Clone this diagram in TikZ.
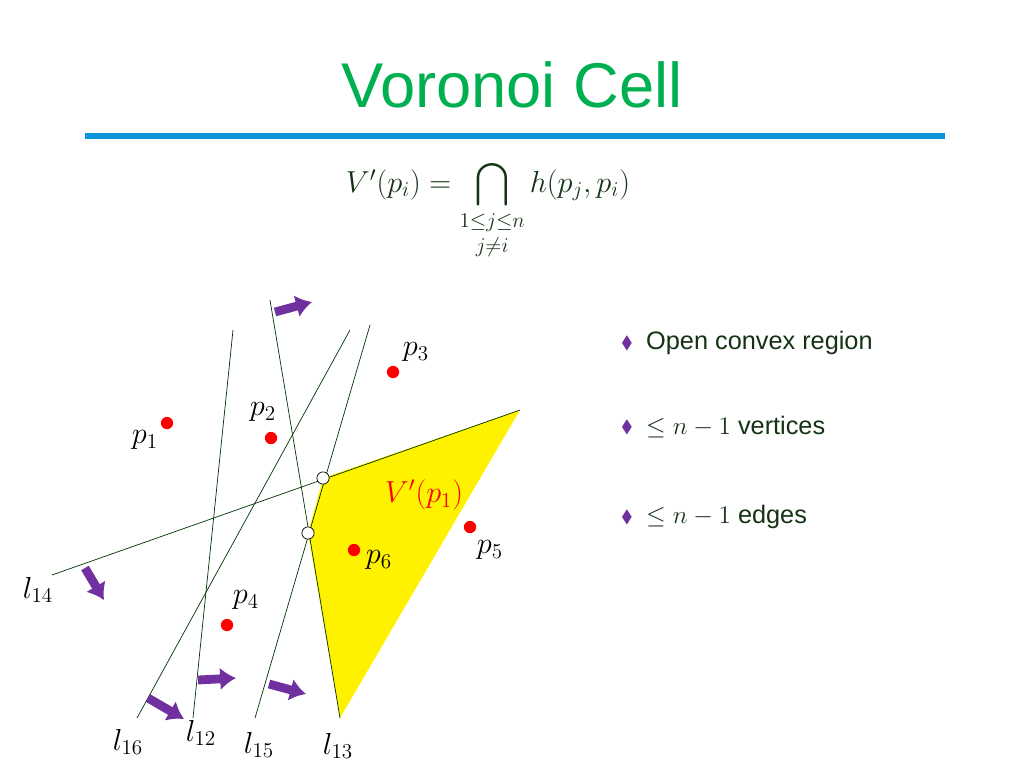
\documentclass[tikz,border=0pt]{standalone}
\usepackage{amsmath,amssymb}
\usepackage{fontspec}
\setmainfont{Liberation Sans}
\usetikzlibrary{arrows.meta}
\definecolor{ttlgreen}{RGB}{0,176,80}
\definecolor{darktxt}{RGB}{20,50,20}
\definecolor{pushviolet}{RGB}{112,48,160}
\begin{document}
\begin{tikzpicture}[x=0.02cm,y=-0.02cm]
            \tikzstyle{site}=[circle,fill=red,inner sep=0pt,minimum size=7pt]
            \tikzstyle{vert}=[circle,draw,fill=white,inner sep=0pt,minimum size=7pt]
            \tikzset{bis/.style = {draw=black!80!green,thin}}
            \tikzset{push/.style = {-{Latex[length=9pt,width=13pt]},line width=5pt,draw=pushviolet}}
            \tikzset{lab/.style = {font=\LARGE}}
            \useasboundingbox (0,0) rectangle (1024,768);
            \node[text=ttlgreen,font=\fontsize{36}{40}\selectfont] (title) at (512,85) {Voronoi Cell};
            \draw[line width=3.5pt,draw=cyan!80!blue] (85,136) -- (945,136);
            \node[font=\LARGE,text=darktxt] (eq) at (488,210) {$V'(p_i)=\displaystyle\bigcap_{\substack{1\le j\le n\\[2pt] j\ne i}} h(p_j,p_i)$};
            % cell
            \coordinate (a) at (323,478);
            \coordinate (b) at (520,410);
            \coordinate (c) at (340,718);
            \coordinate (d) at (308,533);
            \fill[yellow] (a) -- (b) -- (c) -- (d) -- cycle;
            % bisectors
            \coordinate (l14s) at (52,575);
            \coordinate (l13s) at (270,300);
            \coordinate (l15s) at (370,325);
            \coordinate (l15e) at (255,718);
            \coordinate (l16s) at (350,330);
            \coordinate (l16e) at (137,718);
            \coordinate (l12s) at (233,330);
            \coordinate (l12e) at (193,718);
            \draw[bis] (l14s) -- (b);
            \draw[bis] (l13s) -- (c);
            \draw[bis] (l15s) -- (l15e);
            \draw[bis] (l16s) -- (l16e);
            \draw[bis] (l12s) -- (l12e);
            \node[vert] (v1) at (a) {};
            \node[vert] (v2) at (d) {};
            % sites
            \node[site] (p1) at (167,423) {};
            \node[site] (p2) at (271,438) {};
            \node[site] (p3) at (393,372) {};
            \node[site] (p4) at (227,625) {};
            \node[site] (p5) at (470,527) {};
            \node[site] (p6) at (354,550) {};
            \node[lab] (t1) at (145,440) {$p_1$};
            \node[lab] (t2) at (263,412) {$p_2$};
            \node[lab] (t3) at (416,352) {$p_3$};
            \node[lab] (t4) at (246,600) {$p_4$};
            \node[lab] (t5) at (490,550) {$p_5$};
            \node[lab] (t6) at (379,560) {$p_6$};
            \node[lab,text=red] (tv) at (424,495) {$V'(p_1)$};
            \node[lab] (n14) at (38,590) {$l_{14}$};
            \node[lab] (n16) at (128,742) {$l_{16}$};
            \node[lab] (n12) at (201,733) {$l_{12}$};
            \node[lab] (n15) at (259,745) {$l_{15}$};
            \node[lab] (n13) at (338,746) {$l_{13}$};
            % half-planes
            \draw[push] (275,312) -- (312,302);
            \draw[push] (85,568) -- (104,600);
            \draw[push] (198,680) -- (236,678);
            \draw[push] (269,684) -- (306,694);
            \draw[push] (148,698) -- (184,719);
            % bullets
            \node[text=pushviolet] (b1) at (627,343) {$\blacklozenge$};
            \node[text=pushviolet] (b2) at (627,427) {$\blacklozenge$};
            \node[text=pushviolet] (b3) at (627,517) {$\blacklozenge$};
            \node[anchor=west,font=\Large,text=darktxt] (s1) at (640,343) {Open convex region};
            \node[anchor=west,font=\Large,text=darktxt] (s2) at (640,427) {$\le n-1$ vertices};
            \node[anchor=west,font=\Large,text=darktxt] (s3) at (640,517) {$\le n-1$ edges};
        \end{tikzpicture}
\end{document}
